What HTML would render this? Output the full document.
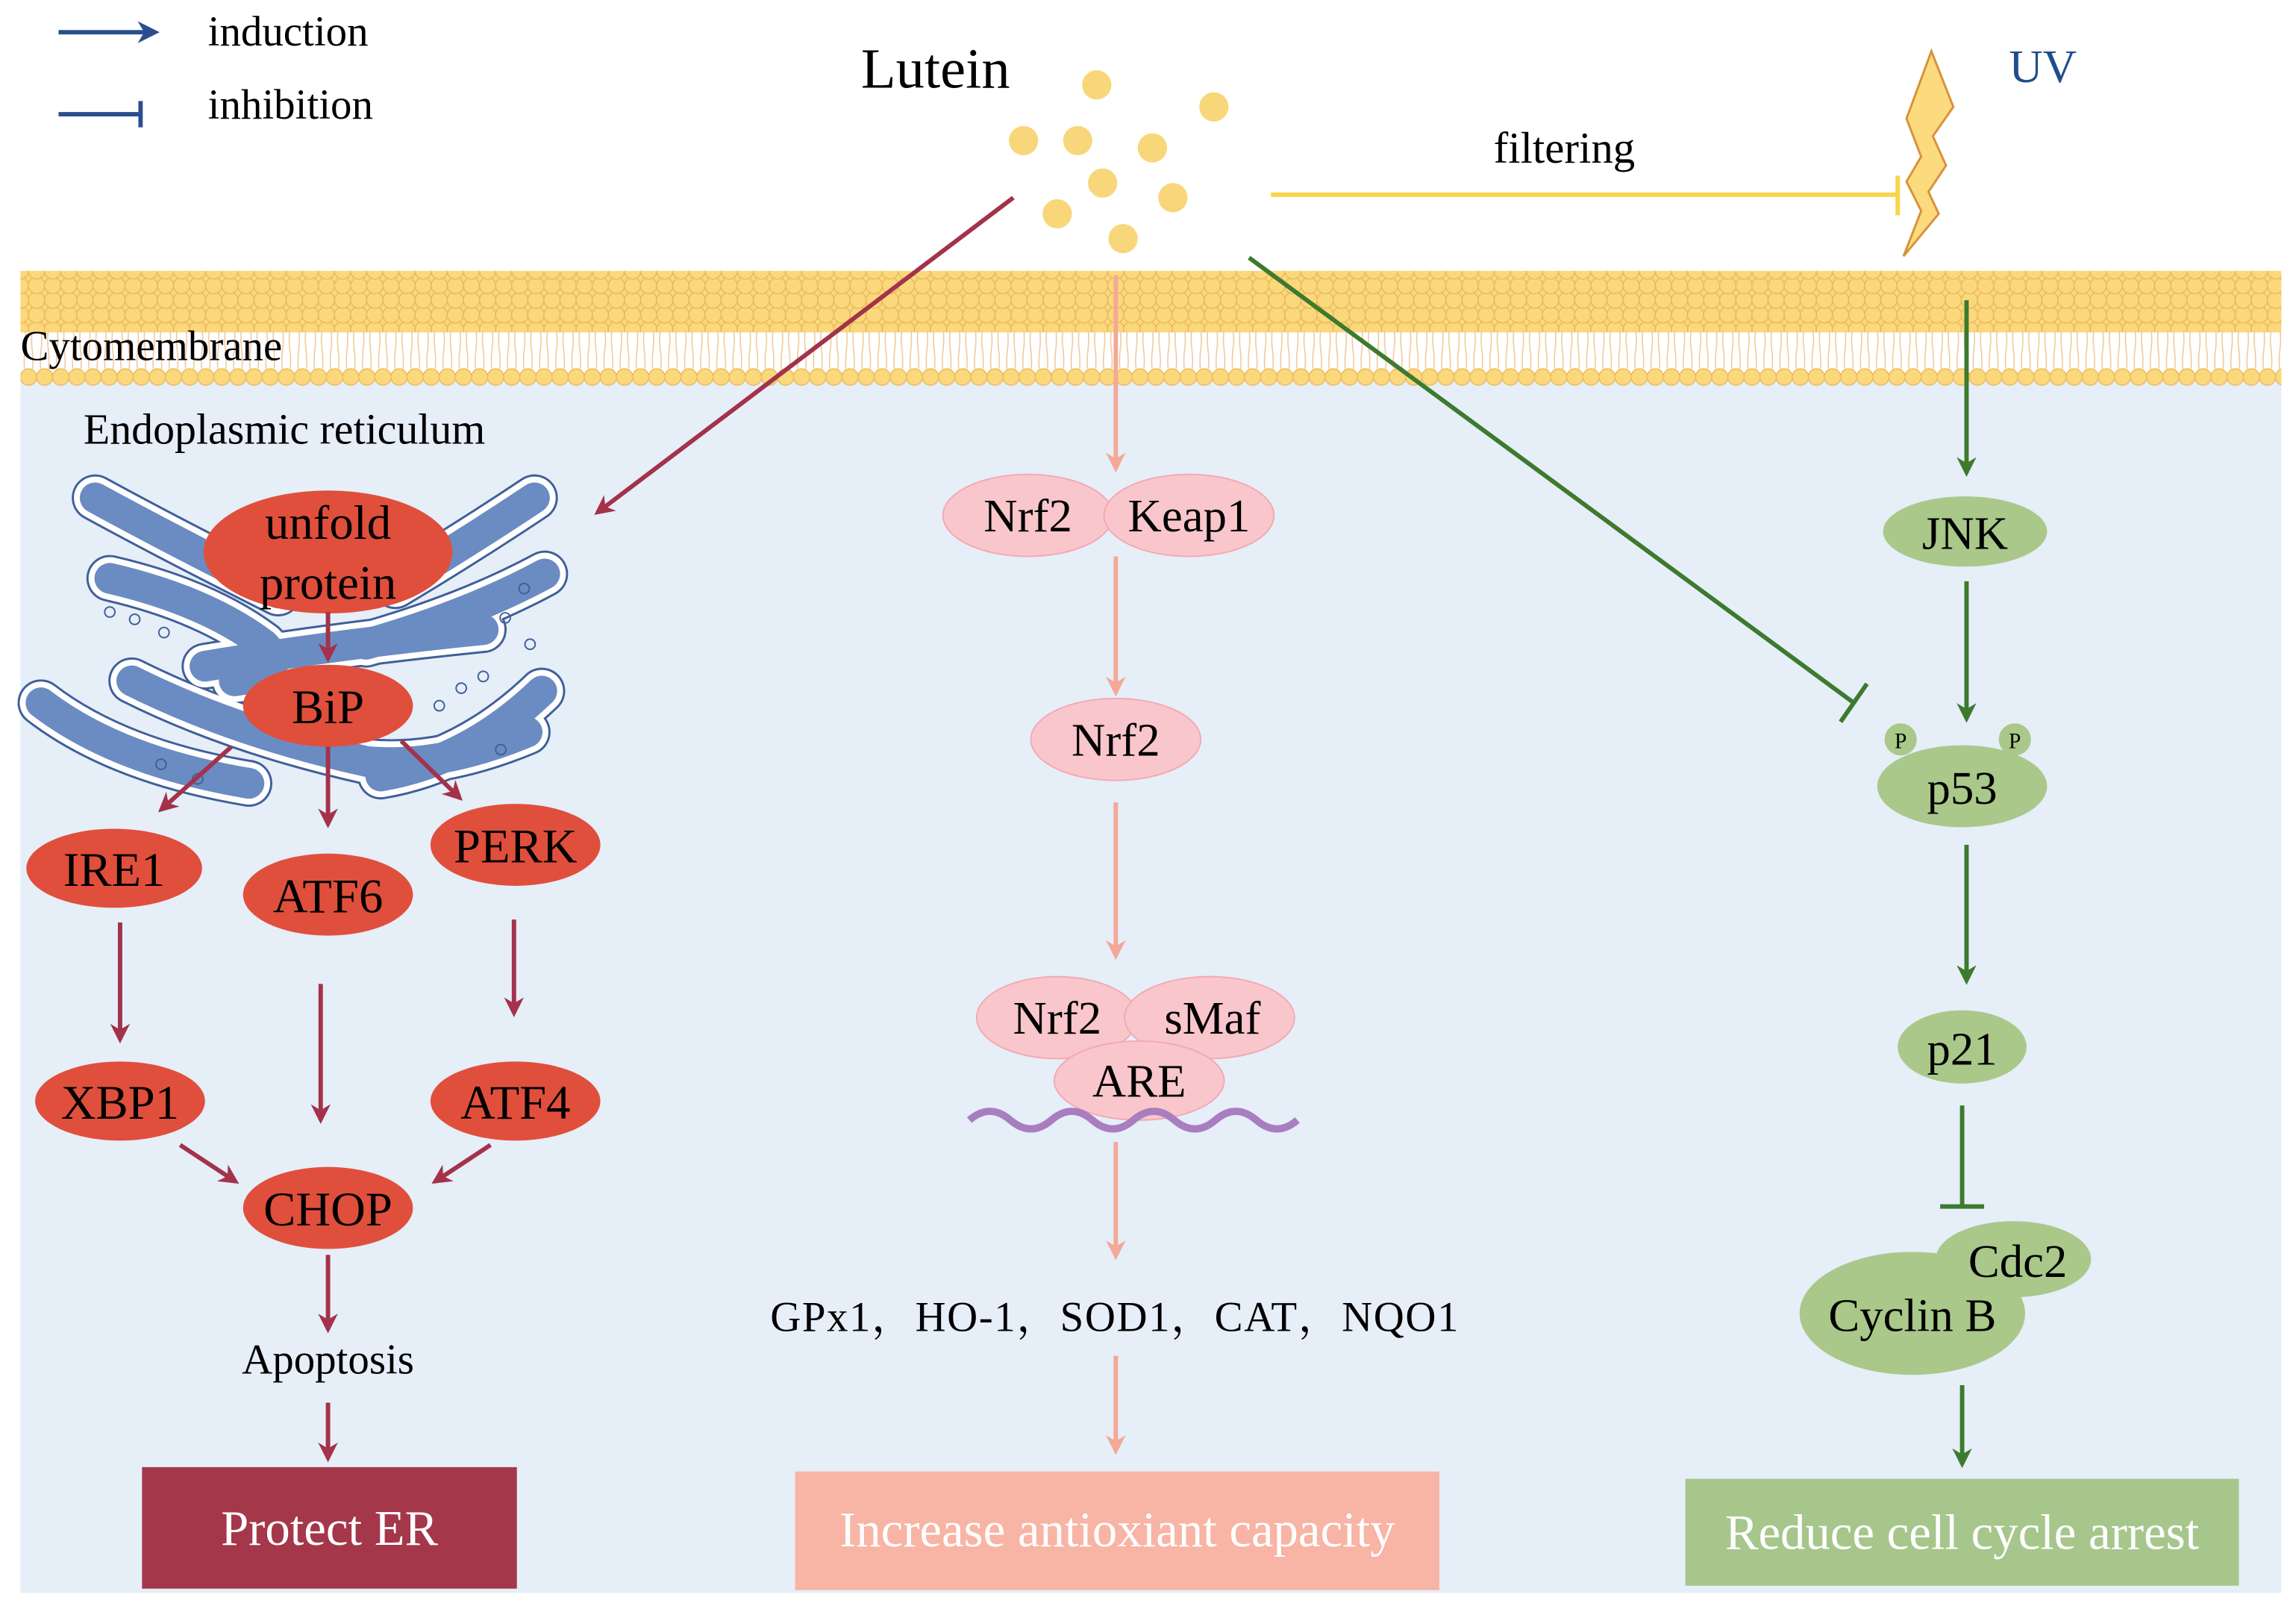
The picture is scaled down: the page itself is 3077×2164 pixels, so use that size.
<!DOCTYPE html>
<html><head><meta charset="utf-8"><style>
html,body{margin:0;padding:0;background:#fff;}
svg{display:block;}
text{font-family:"Liberation Serif",serif;}
</style></head><body>
<svg width="3077" height="2164" viewBox="0 0 1568 1103" preserveAspectRatio="none" xmlns="http://www.w3.org/2000/svg">
<defs>
<pattern id="heads" width="11" height="10" patternUnits="userSpaceOnUse" x="14" y="185">
<circle cx="5.5" cy="5" r="5.6" fill="#fbd87c" stroke="#e8b85a" stroke-width="0.7"/>
<circle cx="0" cy="10" r="5.6" fill="#fbd87c" stroke="#e8b85a" stroke-width="0.7"/>
<circle cx="11" cy="10" r="5.6" fill="#fbd87c" stroke="#e8b85a" stroke-width="0.7"/>
<circle cx="0" cy="0" r="5.6" fill="#fbd87c" stroke="#e8b85a" stroke-width="0.7"/>
<circle cx="11" cy="0" r="5.6" fill="#fbd87c" stroke="#e8b85a" stroke-width="0.7"/>
</pattern>
<pattern id="tails" width="11" height="30" patternUnits="userSpaceOnUse" x="14" y="224">
<path d="M3 0 q1 8 0 15 q-1 8 0 15 M8 0 q-1 8 0 15 q1 8 0 15" stroke="#f0c89a" stroke-width="0.8" fill="none"/>
</pattern>
<pattern id="bot" width="11" height="15" patternUnits="userSpaceOnUse" x="14" y="250">
<circle cx="5.5" cy="7.5" r="5.6" fill="#fbd87c" stroke="#e8b85a" stroke-width="0.7"/>
</pattern>
<marker id="ar" viewBox="0 0 10 10" refX="8" refY="5" markerWidth="4.5" markerHeight="4.5" orient="auto"><path d="M0 0 L10 5 L0 10 L3 5 z" fill="#a3324a"/></marker>
<marker id="ap" viewBox="0 0 10 10" refX="8" refY="5" markerWidth="4.5" markerHeight="4.5" orient="auto"><path d="M0 0 L10 5 L0 10 L3 5 z" fill="#f4a898"/></marker>
<marker id="ag" viewBox="0 0 10 10" refX="8" refY="5" markerWidth="4.5" markerHeight="4.5" orient="auto"><path d="M0 0 L10 5 L0 10 L3 5 z" fill="#3d7a2e"/></marker>
<marker id="ab" viewBox="0 0 10 10" refX="8" refY="5" markerWidth="5" markerHeight="5" orient="auto"><path d="M0 0 L10 5 L0 10 L3 5 z" fill="#2a4d8f"/></marker>
</defs>

<rect x="14" y="255" width="1544" height="833" fill="#e6eef8"/>
<rect x="14" y="185" width="1544" height="42" fill="url(#heads)"/>
<rect x="14" y="226" width="1544" height="26" fill="url(#tails)"/>
<rect x="14" y="250" width="1544" height="15" fill="url(#bot)"/>
<text x="14" y="246" font-size="29">Cytomembrane</text>

<line x1="40" y1="22" x2="106" y2="22" stroke="#2a4d8f" stroke-width="3" marker-end="url(#ab)"/>
<text x="142" y="31" font-size="29">induction</text>
<line x1="40" y1="78" x2="96" y2="78" stroke="#2a4d8f" stroke-width="3"/>
<line x1="96" y1="69" x2="96" y2="87" stroke="#2a4d8f" stroke-width="3"/>
<text x="142" y="81" font-size="29">inhibition</text>

<text x="588" y="60" font-size="39">Lutein</text>
<g fill="#f8d77a">
<circle cx="749" cy="58" r="10"/><circle cx="829" cy="73" r="10"/><circle cx="699" cy="96" r="10"/>
<circle cx="736" cy="96" r="10"/><circle cx="787" cy="101" r="10"/><circle cx="753" cy="125" r="10"/>
<circle cx="801" cy="135" r="10"/><circle cx="722" cy="146" r="10"/><circle cx="767" cy="163" r="10"/>
</g>
<text x="1020" y="111" font-size="30">filtering</text>
<line x1="868" y1="133" x2="1296" y2="133" stroke="#f9d648" stroke-width="3"/>
<line x1="1296" y1="120" x2="1296" y2="147" stroke="#f9d648" stroke-width="3"/>
<polygon points="1319,35 1334,73 1320,93 1329,113 1317,131 1324,146 1300,175 1312,144 1302,124 1312,107 1302,81" fill="#fbdb7d" stroke="#d9913a" stroke-width="1.5"/>
<text x="1372" y="56" font-size="32" fill="#1f4e8a">UV</text>

<line x1="692" y1="135" x2="408" y2="350" stroke="#a3324a" stroke-width="3" marker-end="url(#ar)"/>
<line x1="853" y1="176" x2="1266" y2="480" stroke="#3d7a2e" stroke-width="3"/>
<line x1="1257" y1="493" x2="1275" y2="467" stroke="#3d7a2e" stroke-width="3"/>
<line x1="1343" y1="205" x2="1343" y2="323" stroke="#3d7a2e" stroke-width="3" marker-end="url(#ag)"/>

<text x="57" y="303" font-size="29.5">Endoplasmic reticulum</text>

<g fill="none" stroke-linecap="round">
<g stroke="#3f5f9a" stroke-width="32">
<path d="M65 340 Q120 370 190 405"/><path d="M75 395 Q140 410 180 440 Q200 460 160 465"/>
<path d="M28 480 Q80 520 170 535"/><path d="M90 465 Q160 500 250 520 Q300 525 360 500"/>
<path d="M365 340 Q320 370 270 400"/><path d="M372 392 Q320 420 250 440"/>
<path d="M370 472 Q320 520 260 530"/><path d="M140 455 Q230 440 330 430"/>
</g>
<g stroke="#ffffff" stroke-width="29">
<path d="M65 340 Q120 370 190 405"/><path d="M75 395 Q140 410 180 440 Q200 460 160 465"/>
<path d="M28 480 Q80 520 170 535"/><path d="M90 465 Q160 500 250 520 Q300 525 360 500"/>
<path d="M365 340 Q320 370 270 400"/><path d="M372 392 Q320 420 250 440"/>
<path d="M370 472 Q320 520 260 530"/><path d="M140 455 Q230 440 330 430"/>
</g>
<g stroke="#6a8cc2" stroke-width="21">
<path d="M65 340 Q120 370 190 405"/><path d="M75 395 Q140 410 180 440 Q200 460 160 465"/>
<path d="M28 480 Q80 520 170 535"/><path d="M90 465 Q160 500 250 520 Q300 525 360 500"/>
<path d="M365 340 Q320 370 270 400"/><path d="M372 392 Q320 420 250 440"/>
<path d="M370 472 Q320 520 260 530"/><path d="M140 455 Q230 440 330 430"/>
</g>
<g stroke="#3f5f9a" stroke-width="1">
<circle cx="75" cy="418" r="3.5"/><circle cx="92" cy="423" r="3.5"/><circle cx="112" cy="432" r="3.5"/>
<circle cx="345" cy="422" r="3.5"/><circle cx="358" cy="402" r="3.5"/><circle cx="300" cy="482" r="3.5"/>
<circle cx="315" cy="470" r="3.5"/><circle cx="330" cy="462" r="3.5"/><circle cx="110" cy="522" r="3.5"/>
<circle cx="135" cy="532" r="3.5"/><circle cx="342" cy="512" r="3.5"/><circle cx="362" cy="440" r="3.5"/>
</g>
</g>

<g fill="#e04f3c">
<ellipse cx="224" cy="377" rx="85" ry="42"/>
<ellipse cx="224" cy="482" rx="58" ry="28"/>
<ellipse cx="78" cy="593" rx="60" ry="27"/>
<ellipse cx="224" cy="611" rx="58" ry="28"/>
<ellipse cx="352" cy="577" rx="58" ry="28"/>
<ellipse cx="82" cy="752" rx="58" ry="27"/>
<ellipse cx="352" cy="752" rx="58" ry="27"/>
<ellipse cx="224" cy="825" rx="58" ry="28"/>
</g>
<g font-size="33" text-anchor="middle">
<text x="224" y="368">unfold</text><text x="224" y="409">protein</text>
<text x="224" y="494">BiP</text><text x="78" y="605">IRE1</text><text x="224" y="623">ATF6</text>
<text x="352" y="589">PERK</text><text x="82" y="764">XBP1</text><text x="352" y="764">ATF4</text>
<text x="224" y="837">CHOP</text>
</g>
<g stroke="#a3324a" stroke-width="3">
<line x1="224" y1="418" x2="224" y2="450" marker-end="url(#ar)"/>
<line x1="158" y1="510" x2="110" y2="553" marker-end="url(#ar)"/>
<line x1="224" y1="510" x2="224" y2="563" marker-end="url(#ar)"/>
<line x1="274" y1="506" x2="314" y2="545" marker-end="url(#ar)"/>
<line x1="82" y1="630" x2="82" y2="710" marker-end="url(#ar)"/>
<line x1="219" y1="672" x2="219" y2="765" marker-end="url(#ar)"/>
<line x1="351" y1="628" x2="351" y2="692" marker-end="url(#ar)"/>
<line x1="123" y1="782" x2="161" y2="807" marker-end="url(#ar)"/>
<line x1="335" y1="782" x2="297" y2="807" marker-end="url(#ar)"/>
<line x1="224" y1="857" x2="224" y2="908" marker-end="url(#ar)"/>
<line x1="224" y1="958" x2="224" y2="996" marker-end="url(#ar)"/>
</g>
<text x="224" y="938" font-size="29" text-anchor="middle">Apoptosis</text>
<rect x="97" y="1002" width="256" height="83" fill="#a5374a"/>
<text x="225" y="1055" font-size="34" fill="#fff" text-anchor="middle">Protect ER</text>

<g stroke="#f4a898" stroke-width="3">
<line x1="762" y1="188" x2="762" y2="320" marker-end="url(#ap)"/>
<line x1="762" y1="380" x2="762" y2="473" marker-end="url(#ap)"/>
<line x1="762" y1="548" x2="762" y2="653" marker-end="url(#ap)"/>
<line x1="762" y1="780" x2="762" y2="858" marker-end="url(#ap)"/>
<line x1="762" y1="926" x2="762" y2="991" marker-end="url(#ap)"/>
</g>
<g fill="#f9c6cc" stroke="#f2aab4" stroke-width="1">
<ellipse cx="702" cy="352" rx="58" ry="28"/><ellipse cx="812" cy="352" rx="58" ry="28"/>
<ellipse cx="762" cy="505" rx="58" ry="28"/>
<ellipse cx="722" cy="695" rx="55" ry="28"/><ellipse cx="826" cy="695" rx="58" ry="28"/>
<ellipse cx="778" cy="738" rx="58" ry="27"/>
</g>
<path d="M662 765 q14 -12 28 0 t28 0 t28 0 t28 0 t28 0 t28 0 t28 0 t28 0" stroke="#a87ec0" stroke-width="5" fill="none"/>
<g font-size="32" text-anchor="middle">
<text x="702" y="363">Nrf2</text><text x="812" y="363">Keap1</text><text x="762" y="516">Nrf2</text>
<text x="722" y="706">Nrf2</text><text x="828" y="706">sMaf</text><text x="778" y="749">ARE</text>
</g>
<text x="761" y="909" font-size="29" text-anchor="middle" textLength="470" style="font-family:'Liberation Serif','Noto Serif CJK SC',serif">GPx1，HO-1，SOD1，CAT，NQO1</text>
<rect x="543" y="1005" width="440" height="81" fill="#f8b4a4"/>
<text x="763" y="1056" font-size="34" fill="#fff" text-anchor="middle">Increase antioxiant capacity</text>

<g fill="#a9c88a">
<ellipse cx="1342" cy="363" rx="56" ry="24"/>
<ellipse cx="1340" cy="537" rx="58" ry="28"/>
<circle cx="1298" cy="505" r="11"/><circle cx="1376" cy="505" r="11"/>
<ellipse cx="1340" cy="715" rx="44" ry="25"/>
<ellipse cx="1375" cy="860" rx="53" ry="26"/>
<ellipse cx="1306" cy="897" rx="77" ry="42"/>
</g>
<g font-size="32" text-anchor="middle">
<text x="1342" y="375">JNK</text><text x="1340" y="549">p53</text>
<text x="1298" y="511" font-size="15">P</text><text x="1376" y="511" font-size="15">P</text>
<text x="1340" y="727">p21</text><text x="1378" y="872">Cdc2</text><text x="1306" y="909">Cyclin B</text>
</g>
<g stroke="#3d7a2e" stroke-width="3">
<line x1="1343" y1="397" x2="1343" y2="491" marker-end="url(#ag)"/>
<line x1="1343" y1="577" x2="1343" y2="670" marker-end="url(#ag)"/>
<line x1="1340" y1="755" x2="1340" y2="824"/>
<line x1="1325" y1="824" x2="1355" y2="824"/>
<line x1="1340" y1="946" x2="1340" y2="1000" marker-end="url(#ag)"/>
</g>
<rect x="1151" y="1010" width="378" height="73" fill="#a6c68c"/>
<text x="1340" y="1058" font-size="34" fill="#fff" text-anchor="middle">Reduce cell cycle arrest</text>
</svg>
</body></html>
